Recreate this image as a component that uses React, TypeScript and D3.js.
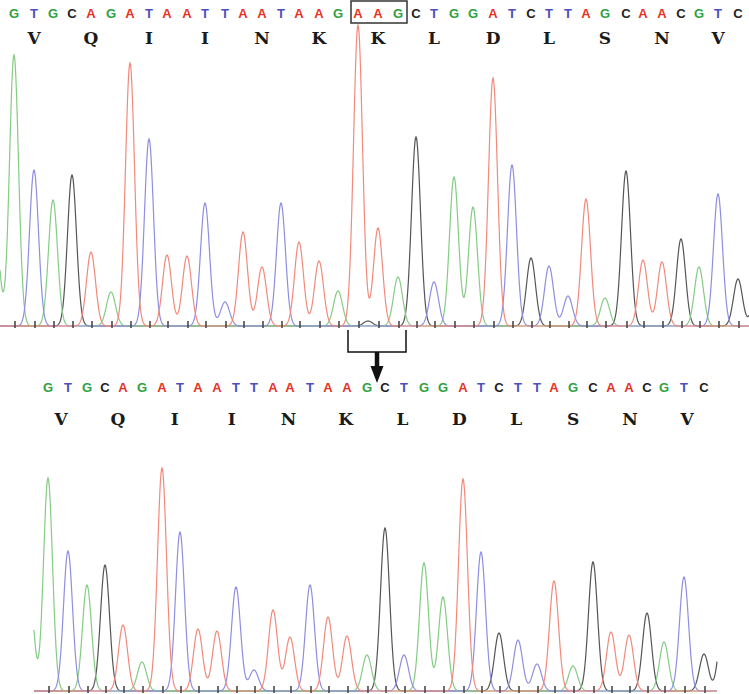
import { useEffect, useRef } from "react";
import * as d3 from "d3";

// base calls (text rows)
const topSeq = "GTGCAGATAATTAATAAGAAGCTGGATCTTAGCAACGTC".split("");
const topAmino = ["V", "Q", "I", "I", "N", "K", "K", "L", "D", "L", "S", "N", "V"];
const botSeq = "GTGCAGATAATTAATAAGCTGGATCTTAGCAACGTC".split("");
const botAmino = ["V", "Q", "I", "I", "N", "K", "L", "D", "L", "S", "N", "V"];

// wild type trace: peak scan positions, base and signal
const topPeakScan = [
  14, 34, 53, 72, 91, 111, 130, 149, 167, 187, 205, 225, 243, 262, 281, 299, 319, 338, 358, 378,
  398, 416, 434, 454, 473, 493, 512, 531, 549, 568, 586, 605, 626, 643, 662, 681, 699, 718, 738,
];
const topPeakSignal = [
  271, 156, 126, 151, 74, 34, 263, 187, 71, 70, 123, 24, 94, 59, 123, 84, 65, 35, 301, 98,
  49, 189, 44, 149, 119, 248, 161, 68, 60, 30, 127, 28, 155, 66, 64, 87, 59, 132, 47,
];
// partial peaks at the trace edges and small noise
const topExtraScan = [-5, 368, 757];
const topExtraBase = ["G", "C", "C"];
const topExtraSignal = [100, 5, 40];

// deletion mutant trace
const botPeakScan = [
  48, 68, 87, 105, 123, 142, 162, 180, 198, 217, 236, 254, 273, 290, 310, 328, 347, 367,
  385, 404, 424, 443, 463, 481, 499, 518, 537, 554, 573, 593, 611, 629, 647, 664, 684, 704,
];
const botPeakSignal = [
  213, 140, 106, 126, 66, 29, 223, 159, 62, 60, 104, 21, 81, 54, 106, 74, 55, 36,
  163, 36, 128, 94, 212, 139, 58, 51, 27, 110, 25, 129, 59, 56, 78, 49, 114, 37,
];
const botExtraScan = [29, 723];
const botExtraBase = ["G", "C"];
const botExtraSignal = [110, 70];

const letterColor = { G: "#2fa23f", A: "#e8321f", T: "#4b4fc0", C: "#222222" };
const traceColor = { G: "#85cc85", A: "#f28a7c", T: "#8e8ee2", C: "#555555" };

export default function App() {
  const ref = useRef(null);

  useEffect(() => {
    const width = 749;
    const height = 694;
    const svg = d3.select(ref.current);
    svg.selectAll("*").remove();
    svg.attr("width", width).attr("height", height);

    const sigma = 4.5;
    const x = d3.scaleLinear().domain([0, 749]).range([0, 749]);

    const drawPanel = (opts) => {
      const {
        seq, amino, aminoX, peakScan, peakSignal, extraScan, extraBase, extraSignal,
        baseline, seqY, aminoY, scanRange,
      } = opts;

      const y = d3.scaleLinear().domain([0, 300]).range([baseline, baseline - 300]);
      const g = svg.append("g");

      const peaks = peakScan
        .map((s, i) => ({ scan: s, base: seq[i], signal: peakSignal[i] }))
        .concat(extraScan.map((s, i) => ({ scan: s, base: extraBase[i], signal: extraSignal[i] })));

      const samples = d3.range(scanRange[0], scanRange[1] + 0.01, 0.5);
      const line = d3
        .line()
        .x((d) => x(d[0]))
        .y((d) => y(d[1]));

      // black first so the coloured channels sit on top at the baseline
      ["C", "G", "T", "A"].forEach((b) => {
        const ch = peaks.filter((p) => p.base === b);
        const pts = samples.map((s) => [
          s,
          d3.sum(ch, (p) => p.signal * Math.exp(-((s - p.scan) ** 2) / (2 * sigma * sigma))),
        ]);
        g.append("path")
          .attr("d", line(pts))
          .attr("fill", "none")
          .attr("stroke", traceColor[b])
          .attr("stroke-width", 1.2);
      });

      // base position ticks
      g.selectAll("line.tick")
        .data(peakScan)
        .enter()
        .append("line")
        .attr("x1", (d) => x(d) + 1)
        .attr("x2", (d) => x(d) + 1)
        .attr("y1", baseline - 5)
        .attr("y2", baseline + 2)
        .attr("stroke", "#4a4a4a")
        .attr("stroke-width", 1.6);

      // base letters, placed over their peaks
      g.selectAll("text.base")
        .data(seq)
        .enter()
        .append("text")
        .attr("x", (d, i) => x(peakScan[i]))
        .attr("y", seqY)
        .attr("text-anchor", "middle")
        .style("font-family", "'Liberation Sans', Arial, sans-serif")
        .style("font-weight", "bold")
        .style("font-size", "13px")
        .style("fill", (d) => letterColor[d])
        .text((d) => d);

      // amino acids
      const ax = aminoX || ((i) => x(peakScan[i * 3 + 1]));
      g.selectAll("text.aa")
        .data(amino)
        .enter()
        .append("text")
        .attr("x", (d, i) => ax(i))
        .attr("y", aminoY)
        .attr("text-anchor", "middle")
        .style("font-family", "'DejaVu Serif', 'Courier New', serif")
        .style("font-weight", "bold")
        .style("font-size", "17px")
        .style("fill", "#1a1a1a")
        .text((d) => d);
    };

    drawPanel({
      seq: topSeq,
      amino: topAmino,
      peakScan: topPeakScan,
      peakSignal: topPeakSignal,
      extraScan: topExtraScan,
      extraBase: topExtraBase,
      extraSignal: topExtraSignal,
      baseline: 326,
      seqY: 17.5,
      aminoY: 44,
      scanRange: [0, 749],
    });

    const botAx = d3.scalePoint().domain(d3.range(botAmino.length)).range([61, 687]);
    drawPanel({
      seq: botSeq,
      amino: botAmino,
      aminoX: (i) => botAx(i),
      peakScan: botPeakScan,
      peakSignal: botPeakSignal,
      extraScan: botExtraScan,
      extraBase: botExtraBase,
      extraSignal: botExtraSignal,
      baseline: 691,
      seqY: 392,
      aminoY: 425,
      scanRange: [34, 717],
    });

    // box around the deleted codon
    const first = x(topPeakScan[18]);
    const last = x(topPeakScan[20]);
    svg.append("rect")
      .attr("x", first - 7)
      .attr("y", 1)
      .attr("width", last - first + 16)
      .attr("height", 22)
      .attr("fill", "none")
      .attr("stroke", "#333")
      .attr("stroke-width", 1.5);

    // bracket + arrow
    const l = first - 10;
    const r = last + 8;
    const mid = (l + r) / 2;
    svg.append("path")
      .attr("d", `M${l},330 V352 H${r} V330`)
      .attr("fill", "none")
      .attr("stroke", "#111")
      .attr("stroke-width", 1.5);
    svg.append("line")
      .attr("x1", mid)
      .attr("x2", mid)
      .attr("y1", 352)
      .attr("y2", 368)
      .attr("stroke", "#111")
      .attr("stroke-width", 4.5);
    svg.append("path")
      .attr("d", `M${mid - 6.5},366 L${mid + 6.5},366 L${mid},383 Z`)
      .attr("fill", "#111");
  }, []);

  return (
    <div style={{ position: "absolute", left: 0, top: 0, width: 749, height: 694, background: "#fff" }}>
      <svg ref={ref} style={{ display: "block" }} />
    </div>
  );
}
